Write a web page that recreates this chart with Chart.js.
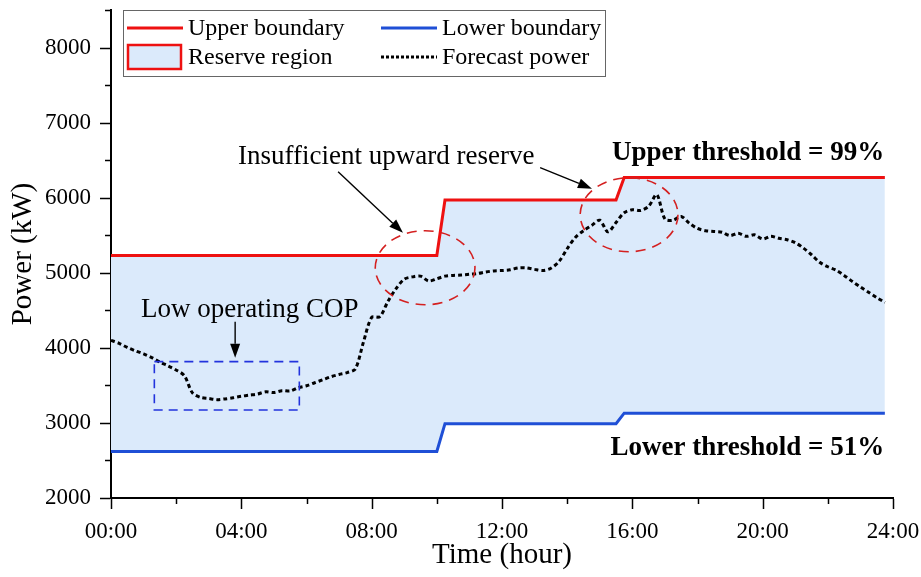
<!DOCTYPE html>
<html>
<head>
<meta charset="utf-8">
<script src="https://cdn.jsdelivr.net/npm/chart.js@4/dist/chart.umd.min.js"></script>
<style>
html,body{margin:0;padding:0;background:#fff;}
#wrap{width:921px;height:577px;position:relative;}
</style>
</head>
<body>
<div id="wrap"><canvas id="c" width="921" height="577"></canvas></div>
<script>
// ---- data ----
const forecastPower = [
  4100,4060,4005,3960,3920,3870,3810,3760,3705,3630,3400,3340,
  3325,3310,3320,3335,3355,3370,3385,3415,3405,3430,3425,3470,
  3495,3535,3575,3615,3645,3670,3720,4080,4405,4415,4620,4790,
  4915,4945,4955,4890,4920,4955,4965,4970,4980,4990,5010,5025,
  5030,5040,5065,5065,5045,5030,5060,5150,5320,5470,5560,5630,
  5700,5545,5670,5800,5840,5830,5885,6040,5716,5700,5750,5660,
  5590,5560,5550,5540,5495,5525,5485,5505,5450,5485,5460,5440,
  5400,5330,5240,5140,5080,5035,4965,4885,4810,4740,4670,4605
];
const boundaryHours = [0, 10, 10.25, 15.5, 15.75, 23.75];
const upperBoundary = [5230, 5230, 5970, 5970, 6270, 6270];
const lowerBoundary = [2620, 2620, 2990, 2990, 3130, 3130];
const yTicks = [2000, 3000, 4000, 5000, 6000, 7000, 8000];
const xTickHours = [0, 4, 8, 12, 16, 20, 24];
const legendLabels = ['Upper boundary', 'Lower boundary', 'Reserve region', 'Forecast power'];

const RED = '#ee1111', BLUE = '#1f4fd6', FILL = '#dbeafb', ANNO_RED = '#d42020', ANNO_BLUE = '#2233dd';
const FONT = "'Liberation Serif', 'Times New Roman', serif";

const toPts = (xs, ys) => xs.map((x, i) => ({x: x, y: ys[i]}));
const forecastPts = forecastPower.map((v, i) => ({x: i * 0.25, y: v}));

const fmtHour = v => (v < 10 ? '0' : '') + v + ':00';

const decoPlugin = {
  id: 'deco',
  afterDraw(chart) {
    const ctx = chart.ctx, xs = chart.scales.x, ys = chart.scales.y, ca = chart.chartArea;
    const X = v => xs.getPixelForValue(v), Y = v => ys.getPixelForValue(v);
    ctx.save();
    // ticks (major + minor), outward
    ctx.strokeStyle = '#000'; ctx.lineWidth = 1.5;
    for (let v = 2000; v <= 8500; v += 500) {
      const len = (v % 1000 === 0) ? 10 : 5;
      const py = Math.round(Y(v)) + 0.5;
      ctx.beginPath(); ctx.moveTo(ca.left - 1, py); ctx.lineTo(ca.left - 1 - len, py); ctx.stroke();
    }
    for (let h = 0; h <= 24; h += 2) {
      const len = (h % 4 === 0) ? 10 : 5;
      const px = Math.round(X(h)) + 0.5;
      ctx.beginPath(); ctx.moveTo(px, ca.bottom + 1); ctx.lineTo(px, ca.bottom + 1 + len); ctx.stroke();
    }

    // dashed red ellipses
    ctx.strokeStyle = ANNO_RED; ctx.lineWidth = 1.6; ctx.setLineDash([10, 7]);
    const ell = (h, v, rh, rv) => {
      const cx = X(h), cy = Y(v);
      const rx = Math.abs(X(h + rh) - cx), ry = Math.abs(Y(v + rv) - cy);
      ctx.beginPath(); ctx.ellipse(cx, cy, rx, ry, 0, 0, Math.PI * 2); ctx.stroke();
    };
    ell(9.64, 5067, 1.53, 493);
    ell(15.9, 5773, 1.5, 493);

    // dashed blue rectangle
    ctx.strokeStyle = ANNO_BLUE; ctx.lineWidth = 1.6; ctx.setLineDash([9, 6]);
    const rx0 = X(1.33), rx1 = X(5.78), ry0 = Y(3817), ry1 = Y(3173);
    ctx.strokeRect(rx0, ry0, rx1 - rx0, ry1 - ry0);
    ctx.setLineDash([]);

    // arrows
    const arrow = (h0, v0, h1, v1) => {
      const x0 = X(h0), y0 = Y(v0), x1 = X(h1), y1 = Y(v1);
      const a = Math.atan2(y1 - y0, x1 - x0), L = 14, W = 5;
      ctx.strokeStyle = '#000'; ctx.fillStyle = '#000'; ctx.lineWidth = 1.4;
      ctx.beginPath(); ctx.moveTo(x0, y0);
      ctx.lineTo(x1 - L * Math.cos(a), y1 - L * Math.sin(a)); ctx.stroke();
      ctx.beginPath(); ctx.moveTo(x1, y1);
      ctx.lineTo(x1 - L * Math.cos(a) + W * Math.sin(a), y1 - L * Math.sin(a) - W * Math.cos(a));
      ctx.lineTo(x1 - L * Math.cos(a) - W * Math.sin(a), y1 - L * Math.sin(a) + W * Math.cos(a));
      ctx.closePath(); ctx.fill();
    };
    arrow(6.97, 6347, 8.96, 5533);
    arrow(13.17, 6400, 14.76, 6120);
    arrow(3.81, 4347, 3.81, 3867);

    // texts
    ctx.fillStyle = '#000'; ctx.textBaseline = 'middle';
    ctx.font = '27px ' + FONT; ctx.textAlign = 'left';
    ctx.fillText('Insufficient upward reserve', X(3.9), Y(6547));
    ctx.fillText('Low operating COP', X(0.92), Y(4507));
    ctx.font = 'bold 27px ' + FONT; ctx.textAlign = 'right';
    ctx.fillText('Upper threshold = 99%', X(23.73), Y(6590));
    ctx.fillText('Lower threshold = 51%', X(23.73), Y(2667));

    // legend
    const lx = ca.left + 12, ly = ca.top;
    ctx.fillStyle = '#fff';
    ctx.fillRect(lx, ly, 482, 66);
    ctx.strokeStyle = '#666'; ctx.lineWidth = 1;
    ctx.strokeRect(lx + 0.5, ly + 0.5, 482, 66);
    const r1 = ly + 18, r2 = ly + 47;
    ctx.lineWidth = 3;
    ctx.strokeStyle = RED; ctx.beginPath(); ctx.moveTo(lx + 4, r1); ctx.lineTo(lx + 60, r1); ctx.stroke();
    ctx.strokeStyle = BLUE; ctx.beginPath(); ctx.moveTo(lx + 258, r1); ctx.lineTo(lx + 314, r1); ctx.stroke();
    ctx.fillStyle = FILL; ctx.fillRect(lx + 5, r2 - 12, 53, 24);
    ctx.strokeStyle = RED; ctx.lineWidth = 2.5; ctx.strokeRect(lx + 5, r2 - 12, 53, 24);
    ctx.strokeStyle = '#000'; ctx.lineWidth = 3; ctx.setLineDash([3, 2]);
    ctx.beginPath(); ctx.moveTo(lx + 258, r2); ctx.lineTo(lx + 314, r2); ctx.stroke();
    ctx.setLineDash([]);
    ctx.fillStyle = '#000'; ctx.font = '24px ' + FONT; ctx.textAlign = 'left';
    ctx.fillText(legendLabels[0], lx + 65, r1 + 1);
    ctx.fillText(legendLabels[1], lx + 319, r1 + 1);
    ctx.fillText(legendLabels[2], lx + 65, r2 + 1);
    ctx.fillText(legendLabels[3], lx + 319, r2 + 1);
    ctx.restore();
  }
};

new Chart(document.getElementById('c'), {
  type: 'line',
  data: {
    datasets: [
      {label: legendLabels[0], data: toPts(boundaryHours, upperBoundary), borderColor: RED, borderWidth: 3,
       backgroundColor: FILL, fill: '+1', pointRadius: 0, tension: 0, order: 3},
      {label: legendLabels[1], data: toPts(boundaryHours, lowerBoundary), borderColor: BLUE, borderWidth: 3,
       fill: false, pointRadius: 0, tension: 0, order: 2},
      {label: legendLabels[3], data: forecastPts, borderColor: '#000', borderWidth: 3, borderDash: [4, 3],
       fill: false, pointRadius: 0, tension: 0.3, order: 1}
    ]
  },
  options: {
    responsive: false, animation: false, devicePixelRatio: 1,
    layout: {padding: {top: 10, right: 28, left: 0, bottom: 0}},
    plugins: {legend: {display: false}, tooltip: {enabled: false}},
    scales: {
      x: {
        type: 'linear', min: 0, max: 24,
        grid: {display: false},
        border: {display: true, color: '#000', width: 2},
        ticks: {stepSize: 4, autoSkip: false, color: '#000', font: {family: FONT, size: 23}, padding: 12,
                maxRotation: 0, callback: v => fmtHour(v)},
        title: {display: true, text: 'Time (hour)', color: '#000', font: {family: FONT, size: 29}, padding: {top: 3}},
        afterFit: s => { s.height = 79; s.paddingLeft = 0; s.paddingRight = 0; }
      },
      y: {
        type: 'linear', min: 2000, max: 8500,
        grid: {display: false},
        border: {display: true, color: '#000', width: 2},
        afterBuildTicks: s => { s.ticks = yTicks.map(v => ({value: v})); },
        ticks: {autoSkip: false, color: '#000', font: {family: FONT, size: 23}, padding: 12,
                callback: v => String(v)},
        title: {display: true, text: 'Power (kW)', color: '#000', font: {family: FONT, size: 29}, padding: {top: 6, bottom: 0}},
        afterFit: s => { s.width = 111; s.paddingTop = 0; s.paddingBottom = 0; }
      }
    }
  },
  plugins: [decoPlugin]
});
</script>
</body>
</html>
